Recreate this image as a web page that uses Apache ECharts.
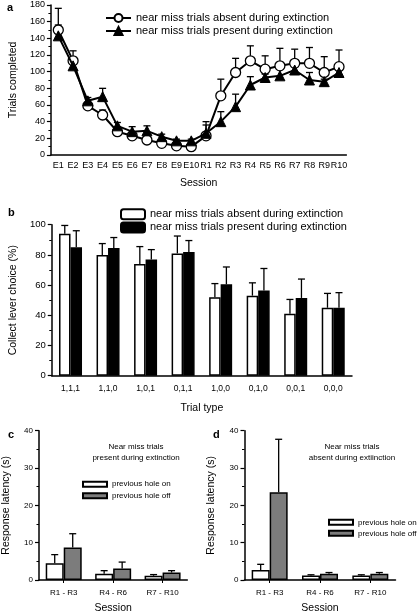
<!DOCTYPE html>
<html><head><meta charset="utf-8">
<script src="https://cdn.jsdelivr.net/npm/echarts@6/dist/echarts.min.js"></script>
<style>html,body{margin:0;padding:0;background:#fff}#c{width:418px;height:615px}</style>
</head><body><div id="c"></div>
<script>
// Panel a
const sessions = ['E1','E2','E3','E4','E5','E6','E7','E8','E9','E10','R1','R2','R3','R4','R5','R6','R7','R8','R9','R10'];
const absentA    = [150,113,59,48,28,23,18,14,11,10,23,71,99,113,103,107,110,110,99,106];
const absentAErr = [26,12,4,6,4,4,3,3,3,3,17,20,17,18,16,21,17,19,19,20];
const presentA    = [143,107,65,70,35,28,29,22,17,17,26,40,58,84,93,95,102,90,88,99];
const presentAErr = [13,10,4,10,4,6,6,3,2,2,10,12,15,10,4,11,4,9,3,8];
const yTicksA = [0,180,20];
// Panel b
const trialTypes = ['1,1,1','1,1,0','1,0,1','0,1,1','1,0,0','0,1,0','0,0,1','0,0,0'];
const absentB    = [94,80,74,81,52,53,41,45];
const absentBErr = [5.5,7.5,11.5,11.5,9,8.5,9.5,9.5];
const presentB    = [85,84.5,77,82,60.5,56.5,51.5,45];
const presentBErr = [11,7,6.5,7.5,11.5,14.5,12.5,10];
// Panels c and d
const latencyGroups = ['R1 - R3','R4 - R6','R7 - R10'];
const cOn = [4.5,1.7,1.15], cOnErr = [2.3,0.8,0.3];
const cOff = [8.7,3.1,2.0], cOffErr = [3.7,1.7,0.5];
const dOn = [2.7,1.2,1.2], dOnErr = [1.5,0.2,0.2];
const dOff = [23.5,1.7,1.7], dOffErr = [14.2,0.3,0.3];

const nmA = 'near miss trials absent during extinction';
const nmP = 'near miss trials present during extinction';
const hOn = 'previous hole on', hOff = 'previous hole off';
const FONT = 'Liberation Sans';
const BLACK = '#000';

function errSeries(name, xi, yi, vals, errs, offset, z) {
  return {
    type: 'custom', name: name, xAxisIndex: xi, yAxisIndex: yi, z: z || 3,
    silent: true,
    data: vals.map((v, i) => [i, v, errs[i]]),
    encode: {x: 0, y: 1},
    renderItem: function (params, api) {
      const i = api.value(0), v = api.value(1), e = api.value(2);
      const p0 = api.coord([i, v]);
      const p1 = api.coord([i, v + e]);
      const cx = p0[0] + offset;
      return {type: 'group', children: [
        {type: 'line', shape: {x1: cx, y1: p0[1], x2: cx, y2: p1[1]}, style: {stroke: BLACK, lineWidth: 1.3}},
        {type: 'line', shape: {x1: cx - 3.5, y1: p1[1], x2: cx + 3.5, y2: p1[1]}, style: {stroke: BLACK, lineWidth: 1.3}}
      ]};
    }
  };
}

function valAxis(gi, min, max, interval, fs, name, gap) {
  return {
    type: 'value', gridIndex: gi, min: min, max: max, interval: interval,
    axisLine: {show: true, lineStyle: {color: BLACK, width: 1.5}},
    axisTick: {show: true, length: 4, lineStyle: {color: BLACK, width: 1.2}},
    minorTick: {show: true, splitNumber: 2, length: 2.5, lineStyle: {color: BLACK, width: 1}},
    splitLine: {show: false},
    axisLabel: {color: BLACK, fontSize: fs, margin: 6, fontFamily: FONT},
    name: name, nameLocation: 'middle', nameGap: gap, nameRotate: 90,
    nameTextStyle: {color: BLACK, fontSize: 10.5, fontFamily: FONT}
  };
}
function catAxis(gi, data, fs, margin, name, gap, ticks) {
  return {
    type: 'category', gridIndex: gi, data: data, boundaryGap: true,
    axisLine: {show: true, lineStyle: {color: BLACK, width: 1.5}},
    axisTick: {show: ticks, alignWithLabel: true, length: 3, lineStyle: {color: BLACK, width: 1}},
    axisLabel: {color: BLACK, fontSize: fs, margin: margin, interval: 0, fontFamily: FONT},
    name: name, nameLocation: 'middle', nameGap: gap,
    nameTextStyle: {color: BLACK, fontSize: 10.5, fontFamily: FONT}
  };
}

const bw = 11.5, bwc = 18;
const whiteBar = {color: '#fff', borderColor: BLACK, borderWidth: 1.5};
const grayBar = {color: '#7c7c7c', borderColor: BLACK, borderWidth: 1.5};

const option = {
  animation: false,
  textStyle: {fontFamily: FONT, color: BLACK},
  title: [
    {text: 'a', left: 2, top: -3, textStyle: {fontSize: 11, fontWeight: 'bold', color: BLACK, fontFamily: FONT}},
    {text: 'b', left: 3, top: 202, textStyle: {fontSize: 11, fontWeight: 'bold', color: BLACK, fontFamily: FONT}},
    {text: 'c', left: 3, top: 424, textStyle: {fontSize: 11, fontWeight: 'bold', color: BLACK, fontFamily: FONT}},
    {text: 'd', left: 208, top: 424, textStyle: {fontSize: 11, fontWeight: 'bold', color: BLACK, fontFamily: FONT}},
    {text: 'Near miss trials\npresent during extinction', left: 131, top: 437, textAlign: 'center',
     textStyle: {fontSize: 8, fontWeight: 'normal', lineHeight: 10.5, color: BLACK, fontFamily: FONT}},
    {text: 'Near miss trials\nabsent during extiinction', left: 347, top: 437, textAlign: 'center',
     textStyle: {fontSize: 8, fontWeight: 'normal', lineHeight: 10.5, color: BLACK, fontFamily: FONT}}
  ],
  legend: [
    {data: [nmA, nmP], orient: 'vertical', left: 100, top: 6.5, itemWidth: 25, itemHeight: 10, itemGap: 0,
     textStyle: {fontSize: 11, lineHeight: 13, color: BLACK, fontFamily: FONT}, selectedMode: false},
    {data: [nmA + ' ', nmP + ' '], orient: 'vertical', left: 115, top: 202.5, itemWidth: 24, itemHeight: 10, itemGap: 0,
     textStyle: {fontSize: 11, lineHeight: 13.3, color: BLACK, fontFamily: FONT}, selectedMode: false},
    {data: [hOn, hOff], orient: 'vertical', left: 77, top: 473.3, itemWidth: 24, itemHeight: 5, itemGap: 0, icon: 'rect',
     textStyle: {fontSize: 8, lineHeight: 11.7, color: BLACK, fontFamily: FONT}, selectedMode: false},
    {data: [hOn + ' ', hOff + ' '], orient: 'vertical', left: 323, top: 511.8, itemWidth: 24, itemHeight: 5, itemGap: 0, icon: 'rect',
     textStyle: {fontSize: 8, lineHeight: 11, color: BLACK, fontFamily: FONT}, selectedMode: false}
  ],
  grid: [
    {left: 43, top: 5, width: 303.4, height: 150},
    {left: 46, top: 224.7, width: 306, height: 151},
    {left: 37.3, top: 430.7, width: 150, height: 151.3},
    {left: 244.5, top: 430.7, width: 151, height: 151.3}
  ],
  xAxis: [
    catAxis(0, sessions, 9, 6, 'Session', 23, false),
    catAxis(1, trialTypes, 8.5, 8, 'Trial type', 27, false),
    catAxis(2, latencyGroups, 8, 9, 'Session', 23, true),
    catAxis(3, latencyGroups, 8, 9, 'Session', 23, true)
  ],
  yAxis: [
    valAxis(0, yTicksA[0], yTicksA[1], yTicksA[2], 9, 'Trials completed', 30),
    valAxis(1, 0, 100, 20, 9.5, 'Collect lever choice (%)', 29),
    valAxis(2, 0, 40, 10, 8, 'Response latency (s)', 27),
    valAxis(3, 0, 40, 10, 8, 'Response latency (s)', 28)
  ],
  series: [
    errSeries('errA1', 0, 0, absentA, absentAErr, 0, 1),
    errSeries('errA2', 0, 0, presentA, presentAErr, 0, 1),
    {type: 'line', name: nmA, xAxisIndex: 0, yAxisIndex: 0, data: absentA, z: 2,
     symbol: 'circle', symbolSize: 10, lineStyle: {color: BLACK, width: 2},
     itemStyle: {color: '#fff', borderColor: BLACK, borderWidth: 1.3}},
    {type: 'line', name: nmP, xAxisIndex: 0, yAxisIndex: 0, data: presentA, z: 3,
     symbol: 'triangle', symbolSize: 10, lineStyle: {color: BLACK, width: 2},
     itemStyle: {color: BLACK, borderColor: BLACK, borderWidth: 1}},

    {type: 'bar', name: nmA + ' ', xAxisIndex: 1, yAxisIndex: 1, data: absentB, barWidth: bw, barGap: 0, itemStyle: whiteBar},
    {type: 'bar', name: nmP + ' ', xAxisIndex: 1, yAxisIndex: 1, data: presentB, barWidth: bw, barGap: 0, itemStyle: {color: BLACK, borderColor: BLACK, borderWidth: 1.5}},
    errSeries('errB1', 1, 1, absentB, absentBErr, -bw / 2, 3),
    errSeries('errB2', 1, 1, presentB, presentBErr, bw / 2, 3),

    {type: 'bar', name: hOn, xAxisIndex: 2, yAxisIndex: 2, data: cOn, barWidth: bwc, barGap: 0, itemStyle: whiteBar},
    {type: 'bar', name: hOff, xAxisIndex: 2, yAxisIndex: 2, data: cOff, barWidth: bwc, barGap: 0, itemStyle: grayBar},
    errSeries('errC1', 2, 2, cOn, cOnErr, -bwc / 2, 3),
    errSeries('errC2', 2, 2, cOff, cOffErr, bwc / 2, 3),

    {type: 'bar', name: hOn + ' ', xAxisIndex: 3, yAxisIndex: 3, data: dOn, barWidth: bwc, barGap: 0, itemStyle: whiteBar},
    {type: 'bar', name: hOff + ' ', xAxisIndex: 3, yAxisIndex: 3, data: dOff, barWidth: bwc, barGap: 0, itemStyle: grayBar},
    errSeries('errD1', 3, 3, dOn, dOnErr, -bwc / 2, 3),
    errSeries('errD2', 3, 3, dOff, dOffErr, bwc / 2, 3)
  ]
};
const chart = echarts.init(document.getElementById('c'), null, {renderer: 'canvas'});
chart.setOption(option);
</script></body></html>
